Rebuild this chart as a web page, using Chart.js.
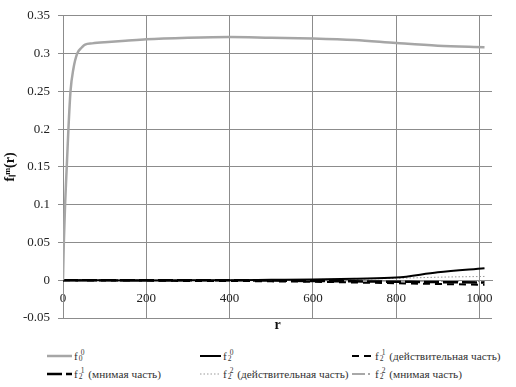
<!DOCTYPE html>
<html>
<head>
<meta charset="utf-8">
<script src="https://cdn.jsdelivr.net/npm/chart.js@4"></script>
<style>
  body { margin: 0; background: #fff; }
  #wrap { position: relative; width: 516px; height: 387px; }
  #chart { position: absolute; left: 0; top: 0; }
  .leg { position: absolute; font-family: 'Liberation Serif'; font-size: 11.3px; line-height: 14px; color: #333; white-space: nowrap; display: flex; align-items: center; }
  .leg svg { margin-right: 2px; }
  .ss { display: inline-flex; flex-direction: column; font-size: 7.5px; line-height: 6px; margin: 0 1px 0 1px; color: #333; }
  .ss span:first-child { margin-left: 2px; }
</style>
</head>
<body>
<div id="wrap">
  <canvas id="chart" width="516" height="340"></canvas>
  <div id="legend"></div>
</div>
<script>
// r values (dense near zero for the f0^0 rise)
const rDense = [0, 2, 5, 9, 13, 18, 25, 34, 45, 53, 70, 100, 150, 200, 300, 400, 500, 600, 700, 800, 900, 1012];
const f00 = [0, 0.05, 0.1, 0.15, 0.2, 0.25, 0.28, 0.3, 0.308, 0.312, 0.3135, 0.315, 0.317, 0.319, 0.321, 0.322, 0.321, 0.320, 0.318, 0.314, 0.3105, 0.3085];

const rCoarse = [0, 100, 200, 300, 400, 500, 600, 700, 800, 900, 1012];
const f20 = [0, 0, -0.0005, 0, 0, 0.0005, 0.001, 0.002, 0.0035, 0.0105, 0.016];
const f21re = [0, -0.0005, -0.0005, -0.001, -0.001, -0.0015, -0.002, -0.003, -0.004, -0.005, -0.006];
const f21im = [0, 0, 0, 0, 0, -0.0005, -0.001, -0.0015, -0.002, -0.0025, -0.003];
const f22re = [0, 0, 0, 0, 0, 0.0005, 0.001, 0.0015, 0.0025, 0.004, 0.005];
const f22im = [0, 0, 0, 0, 0, 0, -0.0005, -0.0005, -0.001, -0.001, -0.0015];

const xTicks = [0, 200, 400, 600, 800, 1000];

const pts = (xs, ys) => xs.map((x, i) => ({ x: x, y: ys[i] }));

const series = [
  { label: "f₀⁰", sub: "0", sup: "0", text: "", data: pts(rDense, f00), color: "#a6a6a6", width: 2.5, dash: [] },
  { label: "f₂⁰", sub: "2", sup: "0", text: "", data: pts(rCoarse, f20), color: "#000", width: 2, dash: [] },
  { label: "f₂¹ (действительная часть)", sub: "2", sup: "1", text: "(действительная часть)", data: pts(rCoarse, f21re), color: "#000", width: 2, dash: [7, 5] },
  { label: "f₂¹ (мнимая часть)", sub: "2", sup: "1", text: "(мнимая часть)", data: pts(rCoarse, f21im), color: "#000", width: 2.5, dash: [15, 4] },
  { label: "f₂² (действительная часть)", sub: "2", sup: "2", text: "(действительная часть)", data: pts(rCoarse, f22re), color: "#999", width: 1, dash: [1.5, 2] },
  { label: "f₂² (мнимая часть)", sub: "2", sup: "2", text: "(мнимая часть)", data: pts(rCoarse, f22im), color: "#8c8c8c", width: 1.5, dash: [13, 3, 2, 3] }
];

const serif = "Liberation Serif";

function draw() {
  new Chart(document.getElementById("chart"), {
    type: "scatter",
    data: {
      datasets: series.map(s => ({
        label: s.label,
        data: s.data,
        showLine: true,
        borderColor: s.color,
        backgroundColor: s.color,
        borderWidth: s.width,
        borderDash: s.dash,
        pointRadius: 0,
        cubicInterpolationMode: "monotone",
        xAxisID: "x",
        yAxisID: "y"
      }))
    },
    options: {
      responsive: false,
      animation: false,
      layout: { padding: { top: 13, right: 24, bottom: 6, left: 0 } },
      plugins: { legend: { display: false }, tooltip: { enabled: false } },
      scales: {
        x: {
          type: "linear",
          position: { y: 0 },
          min: 0,
          max: 1030,
          afterBuildTicks: axis => { axis.ticks = xTicks.map(v => ({ value: v })); },
          ticks: { padding: 11, color: "#222", font: { family: serif, size: 13 }, maxRotation: 0, callback: v => String(v) },
          grid: { color: "#8c8c8c", lineWidth: 1, drawTicks: false },
          border: { color: "#8c8c8c" }
        },
        x2: {
          type: "linear",
          position: "bottom",
          min: 0,
          max: 1030,
          ticks: { display: false },
          grid: { display: false, drawTicks: false },
          border: { display: false },
          title: { display: true, text: "r", color: "#111", font: { family: serif, size: 14, weight: "bold" }, padding: 0 },
          afterFit: axis => { axis.height = 16; }
        },
        y: {
          min: -0.05,
          max: 0.35,
          ticks: {
            stepSize: 0.05,
            padding: 8,
            color: "#222",
            font: { family: serif, size: 13 },
            callback: v => String(Number(v.toFixed(2)))
          },
          grid: { color: "#8c8c8c", lineWidth: 1, tickLength: 5 },
          border: { color: "#8c8c8c" },
          title: { display: true, text: "fₗᵐ(r)", color: "#111", font: { family: serif, size: 14, weight: "bold" }, padding: { top: 2, bottom: 0 } },
          afterFit: axis => { axis.width = 63; }
        }
      }
    }
  });
}

// legend below the plot: three columns, two rows
const legendCols = [47, 200, 352];
const legendRows = [349, 367];
const legend = document.getElementById("legend");
series.forEach((s, k) => {
  const el = document.createElement("div");
  el.className = "leg";
  el.style.left = legendCols[k % 3] + "px";
  el.style.top = legendRows[Math.floor(k / 3)] + "px";
  const dash = s.dash.length ? ` stroke-dasharray="${s.dash.join(" ")}"` : "";
  const w = k === 0 ? 25 : (k === 3 ? 25 : 21);
  el.innerHTML =
    `<svg width="${w}" height="8"><line x1="0" y1="4" x2="${w}" y2="4" stroke="${s.color}" stroke-width="${s.width}"${dash}/></svg>` +
    `<span>f</span><span class="ss"><span>${s.sup}</span><span>${s.sub}</span></span>` +
    (s.text ? `<span>&nbsp;${s.text}</span>` : "");
  legend.appendChild(el);
});

document.fonts.load("13px 'Liberation Serif'").then(draw, draw);
</script>
</body>
</html>
